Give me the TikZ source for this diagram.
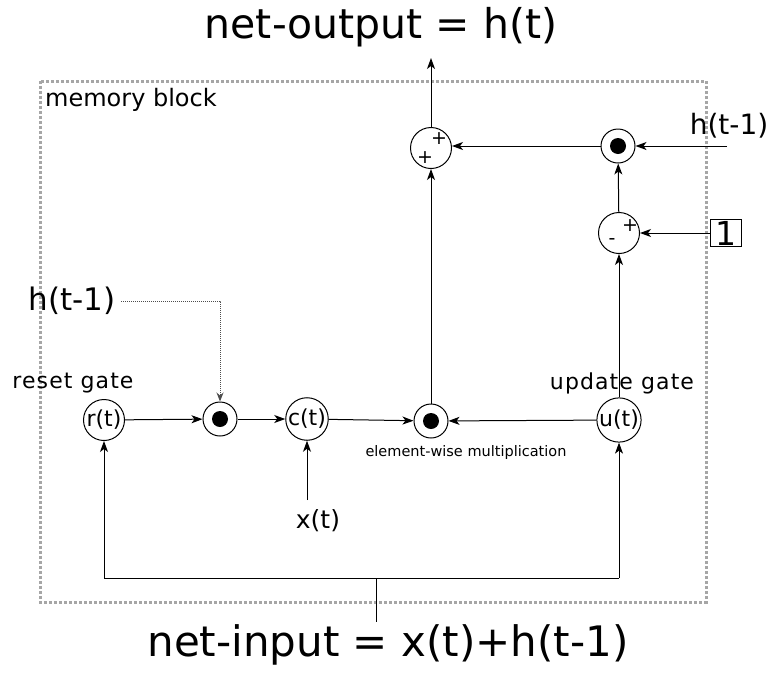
\documentclass[tikz,border=0pt]{standalone}
\usepackage{fontspec}
\setmainfont{DejaVu Sans}
\newfontfamily\widefont[LetterSpace=5]{DejaVu Sans}
\usetikzlibrary{arrows.meta,calc}
\begin{document}
\begin{tikzpicture}[x=1pt,y=1pt,
  op/.style={circle,draw,line width=1pt,minimum size=41pt,inner sep=0pt,font=\fontsize{22}{24}\selectfont},
  dotop/.style={circle,draw,line width=1pt,minimum size=34pt,inner sep=0pt,
    path picture={\fill (path picture bounding box.center) circle (8pt);}},
  arr/.style={-{Stealth[length=11pt,width=8pt,inset=3pt]},line width=1pt},
  ln/.style={line width=1pt},
  hint/.style={-{Stealth[length=9pt,width=7pt,inset=3pt]},line width=1pt,black!70,dash pattern=on 1pt off 1pt},
  big/.style={font=\fontsize{41}{46}\selectfont,inner sep=0pt},
  mid/.style={font=\fontsize{28}{32}\selectfont,inner sep=0pt},
  sign/.style={font=\fontsize{19}{22}\selectfont,inner sep=0pt},
  gate/.style={font=\widefont\fontsize{22}{24}\selectfont,inner sep=0pt}
]
\useasboundingbox (0,0) rectangle (772,-673);
\draw[black!35,line width=3pt,dash pattern=on 3pt off 2pt] (40,-81) rectangle (706,-602);
\node[font=\fontsize{24}{28}\selectfont,anchor=west,inner sep=0pt] (mb) at (45,-100) {memory block};

\node[big] (out) at (381,-27) {net-output = h(t)};
\node[big,font=\fontsize{42}{46}\selectfont] (in) at (388,-645) {net-input = x(t)+h(t-1)};

% top row
\node[op] (plus) at (431,-148) {};
\node[sign] (pa) at (439,-139) {+};
\node[sign] (pb) at (425,-158) {+};
\node[dotop] (dotone) at (618,-146) {};
\node[op] (minus) at (619,-233) {};
\node[sign] (ma) at (630,-226) {+};
\node[sign] (mb2) at (612,-242) {-};
\node[mid] (hr) at (729,-126) {h(t-1)};
\node[draw,line width=1pt,inner xsep=5pt,inner ysep=1pt,font=\fontsize{33}{36}\selectfont] (one) at (726,-233) {1};

% bottom row
\node[op] (r) at (104,-420) {r(t)};
\node[dotop] (dottwo) at (220,-419) {};
\node[op] (c) at (307,-419) {c(t)};
\node[dotop] (dotthree) at (431,-421) {};
\node[op] (u) at (619,-420) {u(t)};
\node[gate] (rg) at (73,-383) {reset gate};
\node[gate] (ug) at (622,-383) {update gate};
\node[font=\fontsize{14.5}{18}\selectfont,inner sep=0pt] (ew) at (466,-452) {element-wise multiplication};
\node[font=\fontsize{31}{36}\selectfont,inner sep=0pt] (hl) at (72,-301) {h(t-1)};
\node[font=\fontsize{25}{28}\selectfont,inner sep=0pt] (xt) at (318,-521) {x(t)};

% coordinates
\coordinate (otip) at (431,-58);
\coordinate (hrs) at (727,-146);
\coordinate (b1) at (104,-578);
\coordinate (b2) at (619,-578);
\coordinate (b3) at (376,-578);
\coordinate (b4) at (376,-622);
\coordinate (xs) at (307,-500);
\coordinate (hls) at (121,-301);
\coordinate (hlc) at (220,-301);

% connectors
\draw[arr] (plus) -- (otip);
\draw[arr] (dotone) -- (dotone -| plus.east);
\draw[arr] (hrs) -- (dotone);
\draw[arr] (minus) -- (dotone);
\draw[arr] (one) -- (minus);
\draw[arr] (u) -- (minus);
\draw[arr] (r) -- (dottwo);
\draw[arr] (dottwo) -- (c);
\draw[arr] (c) -- (dotthree);
\draw[arr] (u) -- (dotthree);
\draw[arr] (dotthree) -- (plus);
\draw[hint] (hls) -- (hlc) -- (dottwo);
\draw[arr] (xs) -- (c);
\draw[ln] (b1) -- (b2);
\draw[arr] (b1) -- (r);
\draw[arr] (b2) -- (u);
\draw[ln] (b3) -- (b4);
\end{tikzpicture}
\end{document}
